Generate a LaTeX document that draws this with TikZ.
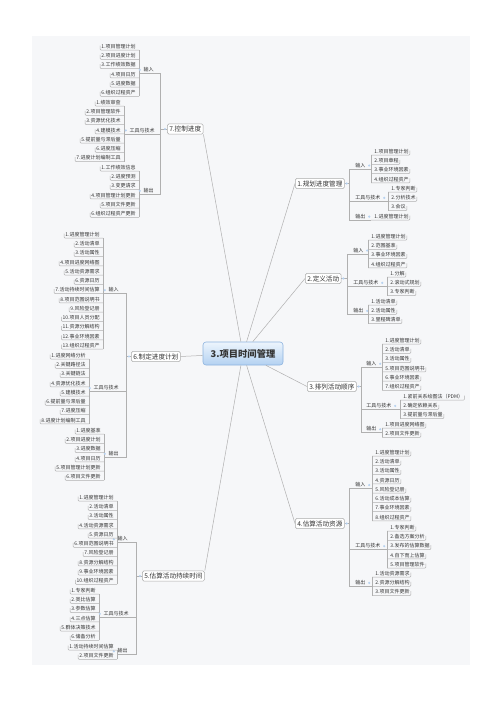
\documentclass[tikz,border=0pt]{standalone}
\usepackage{fontspec}
\setmainfont{Noto Sans CJK SC}
\definecolor{bgc}{HTML}{F6F7F9}
\definecolor{lnc}{HTML}{B0B0B0}
\definecolor{txt}{HTML}{333333}
\definecolor{icn}{HTML}{B7D2F0}
\definecolor{ctop}{HTML}{EDF5FD}
\definecolor{cbot}{HTML}{B3D1F1}
\definecolor{cbrd}{HTML}{8DB3DF}
\definecolor{tbrd}{HTML}{ABABAB}
\tikzset{
 ln/.style={draw=lnc, line width=0.5pt},
 leaf/.style={font=\fontsize{5}{6}\selectfont, text=txt, inner xsep=1.2pt, inner ysep=0.6pt, text height=4.2pt, text depth=0.9pt},
 lab/.style={leaf},
 topic/.style={draw=tbrd, fill=white, rounded corners=1.5pt, font=\fontsize{6.6}{8}\selectfont, text=txt, inner xsep=2pt, inner ysep=2pt, line width=0.5pt},
 central/.style={draw=cbrd, top color=ctop, bottom color=cbot, rounded corners=3pt, font=\fontsize{9.3}{11}\selectfont\bfseries, text=txt, minimum width=80pt, minimum height=23pt, line width=0.6pt},
 icon/.style={fill=icn},
}
% #1 name, #2 topic y, #3 mid trunk x, #4 label x, #5 label, #6 leaf trunk x, #7 first y, #8 n, #9 list
\newcommand\grpR[9]{%
 \pgfmathsetmacro\ly{#7+(#8-1)*4.625}%
 \pgfmathsetmacro\lasty{#7+(#8-1)*9.25}%
 \node[lab, anchor=south west] (#1) at (#4,\ly+4) {#5};
 \draw[ln] (#3,#2) -- (#3,\ly+4) -- (#6,\ly+4);
 \draw[ln] (#6,#7+4) -- (#6,\lasty+4);
 \fill[icon] ([xshift=2.4pt]#1.east) circle (1.2pt);
 \foreach \ltx [count=\i] in {#9} {%
   \pgfmathsetmacro\yy{#7+(\i-1)*9.25}%
   \node[leaf, anchor=south west] (#1-\i) at (#6+2,\yy+4) {\ltx};
   \draw[ln, rounded corners=1pt] (#6,\yy+4) -- (#1-\i.south east) -- ++(0,-4.5);
 }%
}
\newcommand\grpL[9]{%
 \pgfmathsetmacro\ly{#7+(#8-1)*4.625}%
 \pgfmathsetmacro\lasty{#7+(#8-1)*9.25}%
 \node[lab, anchor=south east] (#1) at (#4,\ly+4) {#5};
 \draw[ln] (#3,#2) -- (#3,\ly+4) -- (#6,\ly+4);
 \draw[ln] (#6,#7+4) -- (#6,\lasty+4);
 \fill[icon] ([xshift=-2.4pt]#1.west) circle (1.2pt);
 \foreach \ltx [count=\i] in {#9} {%
   \pgfmathsetmacro\yy{#7+(\i-1)*9.25}%
   \node[leaf, anchor=south east] (#1-\i) at (#6-2,\yy+4) {\ltx};
   \draw[ln, rounded corners=1pt] (#6,\yy+4) -- (#1-\i.south west) -- ++(0,-4.5);
 }%
}
\begin{document}
\begin{tikzpicture}[x=1pt,y=-1pt]
\useasboundingbox (0,0) rectangle (500,707);
\fill[white] (0,0) rectangle (500,707);
\fill[bgc] (32,36) rectangle (470,665);

% central and main topics
\node[central] (c) at (243,353.5) {3.项目时间管理};
\node[topic, anchor=west] (t1) at (295,183.5) {1.规划进度管理};
\node[topic, anchor=west] (t2) at (305,278.5) {2.定义活动};
\node[topic, anchor=west] (t3) at (307,386.5) {3.排列活动顺序};
\node[topic, anchor=west] (t4) at (295,523.5) {4.估算活动资源};
\node[topic, anchor=west] (t5) at (142,576) {5.估算活动持续时间};
\node[topic, anchor=west] (t6) at (131,356.5) {6.制定进度计划};
\node[topic, anchor=west] (t7) at (167,129) {7.控制进度};

\draw[ln] (c) -- (t1.west);
\draw[ln] (c) -- (t2.west);
\draw[ln] (c) -- (t3.west);
\draw[ln] (c) -- (t4.west);
\draw[ln] (c) -- (t5.north east);
\draw[ln] (c) -- (t6.east);
\draw[ln] (c) -- (t7.south east);

% topic to trunk
\draw[ln] (t1.east) -- (349,183.5);
\draw[ln] (t2.east) -- (347,278.5);
\draw[ln] (t3.east) -- (361,386.5);
\draw[ln] (t4.east) -- (349,523.5);
\draw[ln] (t5.west) -- (136,576);
\draw[ln] (t6.west) -- (126,356.5);
\draw[ln] (t7.west) -- (160,129);
\fill[icon] ([xshift=2pt]t1.east) circle (1.2pt);
\fill[icon] ([xshift=2pt]t2.east) circle (1.2pt);
\fill[icon] ([xshift=2pt]t3.east) circle (1.2pt);
\fill[icon] ([xshift=2pt]t4.east) circle (1.2pt);
\fill[icon] ([xshift=-2pt]t5.west) circle (1.2pt);
\fill[icon] ([xshift=-2pt]t6.west) circle (1.2pt);
\fill[icon] ([xshift=-2pt]t7.west) circle (1.2pt);

% 1
\grpR{g1a}{183.5}{349}{354}{输入}{371}{151}{4}{1.项目管理计划,2.项目章程,3.事业环境因素,4.组织过程资产}
\grpR{g1b}{183.5}{349}{354}{工具与技术}{388}{188}{3}{1.专家判断,2.分析技术,3.会议}
\grpR{g1c}{183.5}{349}{354}{输出}{371}{216}{1}{1.进度管理计划}
% 2
\grpR{g2a}{278.5}{347}{352}{输入}{368}{236}{4}{1.进度管理计划,2.范围基准,3.事业环境因素,4.组织过程资产}
\grpR{g2b}{278.5}{347}{352}{工具与技术}{387}{273}{3}{1.分解,2.滚动式规划,3.专家判断}
\grpR{g2c}{278.5}{347}{352}{输出}{368}{301}{3}{1.活动清单,2.活动属性,3.里程碑清单}
% 3
\grpR{g3a}{386.5}{361}{365}{输入}{382}{340}{6}{1.进度管理计划,2.活动清单,3.活动属性,5.项目范围说明书,6.事业环境因素,7.组织过程资产}
\grpR{g3b}{386.5}{361}{365}{工具与技术}{400}{396}{3}{1.紧前关系绘图法（PDM）,2.确定依赖关系,3.提前量与滞后量}
\grpR{g3c}{386.5}{361}{365}{输出}{382}{424}{2}{1.项目进度网络图,2.项目文件更新}
% 4
\grpR{g4a}{523.5}{349}{354}{输入}{372}{452}{8}{1.进度管理计划,2.活动清单,3.活动属性,4.资源日历,5.风险登记册,6.活动成本估算,7.事业环境因素,8.组织过程资产}
\grpR{g4b}{523.5}{349}{354}{工具与技术}{387}{527}{5}{1.专家判断,2.备选方案分析,3.发布的估算数据,4.自下而上估算,5.项目管理软件}
\grpR{g4c}{523.5}{349}{354}{输出}{372}{573}{3}{1.活动资源需求,2.资源分解结构,3.项目文件更新}
% 5
\grpL{g5a}{576}{136}{129}{输入}{117}{497}{10}{1.进度管理计划,2.活动清单,3.活动属性,4.活动资源需求,5.资源日历,6.项目范围说明书,7.风险登记册,8.资源分解结构,9.事业环境因素,10.组织过程资产}
\grpL{g5b}{576}{136}{130}{工具与技术}{99}{590}{6}{1.专家判断,2.类比估算,3.参数估算,4.三点估算,5.群体决策技术,6.储备分析}
\grpL{g5c}{576}{136}{129}{输出}{117}{646}{2}{1.活动持续时间估算,2.项目文件更新}
% 6
\grpL{g6a}{356.5}{126}{120}{输入}{103}{234}{13}{1.进度管理计划,2.活动清单,3.活动属性,4.项目进度网络图,5.活动资源需求,6.资源日历,7.活动持续时间估算,8.项目范围说明书,9.风险登记册,10.项目人员分配,11.资源分解结构,12.事业环境因素,13.组织过程资产}
\grpL{g6b}{356.5}{126}{120}{工具与技术}{89}{355}{8}{1.进度网络分析,2.关键路径法,3.关键链法,4.资源优化技术,5.建模技术,6.提前量与滞后量,7.进度压缩,8.进度计划编制工具}
\grpL{g6c}{356.5}{126}{120}{输出}{104}{430}{6}{1.进度基准,2.项目进度计划,3.进度数据,4.项目日历,5.项目管理计划更新,6.项目文件更新}
% 7
\grpL{g7a}{129}{160}{155}{输入}{139}{46}{6}{1.项目管理计划,2.项目进度计划,3.工作绩效数据,4.项目日历,5.进度数据,6.组织过程资产}
\grpL{g7b}{129}{160}{156}{工具与技术}{124}{102}{7}{1.绩效审查,2.项目管理软件,3.资源优化技术,4.建模技术,5.提前量与滞后量,6.进度压缩,7.进度计划编制工具}
\grpL{g7c}{129}{160}{155}{输出}{139}{167}{6}{1.工作绩效信息,2.进度预测,3.变更请求,4.项目管理计划更新,5.项目文件更新,6.组织过程资产更新}
\end{tikzpicture}
\end{document}
